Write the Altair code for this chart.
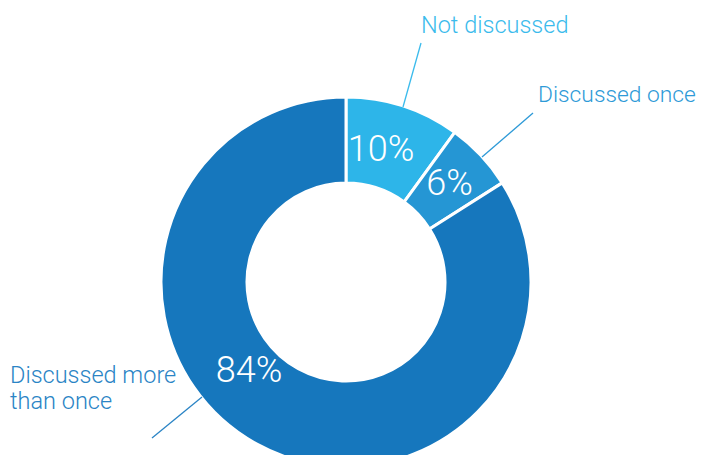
import altair as alt
import pandas as pd

categories = ["Not discussed", "Discussed once", "Discussed more than once"]
shares = [10, 6, 84]
pct_labels = ["10%", "6%", "84%"]
slice_colors = ["#2DB5E9", "#2596D4", "#1677BD"]
label_colors = ["#3BBBEC", "#2E9AD7", "#2A84C5"]
callout_lines = [["Not discussed"], ["Discussed once"], ["Discussed more", "than once"]]

df = pd.DataFrame({"category": categories, "share": shares, "order": [0, 1, 2]})

CX, CY = 338, 274

base = alt.Chart(df)

donut = base.mark_arc(radius=185, radius2=99, stroke="white", strokeWidth=3).encode(
    theta=alt.Theta("share:Q", stack=True),
    order=alt.Order("order:Q"),
    color=alt.Color("category:N", scale=alt.Scale(domain=categories, range=slice_colors), legend=None),
    x=alt.value(CX),
    y=alt.value(CY),
)

FONT = "Roboto"

pct_pos = [(373, 153), (441.5, 187), (241, 374)]
pct_layers = []
for i, (px, py) in enumerate(pct_pos):
    pct_layers.append(
        alt.Chart(df.iloc[[i]]).mark_text(
            font=FONT, fontWeight=300, fontSize=36, color="white",
            align="center", baseline="alphabetic",
        ).encode(x=alt.value(px), y=alt.value(py), text=alt.value(pct_labels[i]))
    )

call_pos = [(413, 25), (530, 94), (2, 375)]
call_sizes = [23.5, 22.8, 23.5]
call_layers = []
for i, (px, py) in enumerate(call_pos):
    call_layers.append(
        alt.Chart(df.iloc[[i]]).mark_text(
            font=FONT, fontWeight=300, fontSize=call_sizes[i], color=label_colors[i],
            align="left", baseline="alphabetic", lineHeight=26,
        ).encode(x=alt.value(px), y=alt.value(py), text=alt.value(callout_lines[i]))
    )

leaders = [((413, 35), (395, 99)), ((525, 105), (474, 149)), ((194, 389), (144, 430))]
leader_layers = []
for i, ((x1, y1), (x2, y2)) in enumerate(leaders):
    leader_layers.append(
        alt.Chart(df.iloc[[i]]).mark_rule(color=label_colors[i], strokeWidth=1.3).encode(
            x=alt.value(x1), y=alt.value(y1), x2=alt.value(x2), y2=alt.value(y2)
        )
    )

chart = alt.layer(donut, *leader_layers, *pct_layers, *call_layers).properties(
    width=688, height=447, padding=0, autosize="none"
).configure_view(stroke=None)

chart.save("out.html", embed_options={"renderer": "svg", "actions": False})
